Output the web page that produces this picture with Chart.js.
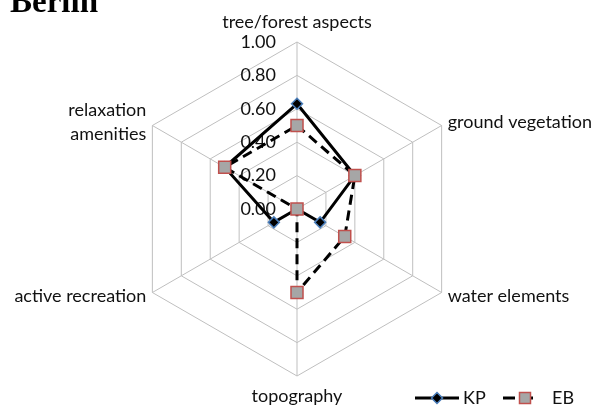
<!DOCTYPE html>
<html lang="en">
<head>
<meta charset="utf-8">
<title>Berlin</title>
<script src="https://cdn.jsdelivr.net/npm/chart.js@4.4.1/dist/chart.umd.min.js"></script>
<style>
    html, body { margin: 0; padding: 0; background: #fff; }
    #grafico-wrap { position: relative; width: 600px; height: 406px; }
</style>
</head>
<body>
<div id="grafico-wrap"><canvas id="chartRadar" width="600" height="406"></canvas></div>
<script>
// Dados
const categorias = ['tree/forest aspects', 'ground vegetation', 'water elements', 'topography', 'active recreation', ['relaxation', 'amenities']];
const valoresKP = [0.63, 0.40, 0.16, 0.00, 0.16, 0.50];
const valoresEB = [0.50, 0.40, 0.33, 0.50, 0.00, 0.50];
const rotulosEscala = ['0.00', '0.20', '0.40', '0.60', '0.80', '1.00'];
const nomesSeries = ['KP', 'EB'];
const tituloGrafico = 'Berlin';

const fonteTexto = '18px Lato';
const corTexto = '#111';
const corGrade = '#BFBFBF';

// Marcadores
function desenharLosango(ctx, x, y, r) {
    ctx.beginPath();
    ctx.moveTo(x, y - r); ctx.lineTo(x + r, y); ctx.lineTo(x, y + r); ctx.lineTo(x - r, y);
    ctx.closePath();
    ctx.fillStyle = '#000';
    ctx.fill();
    ctx.lineWidth = 1.5;
    ctx.strokeStyle = '#4A7EBB';
    ctx.stroke();
}

function desenharQuadrado(ctx, x, y, lado) {
    ctx.fillStyle = '#A6A6A6';
    ctx.fillRect(x - lado / 2, y - lado / 2, lado, lado);
    ctx.lineWidth = 1.5;
    ctx.strokeStyle = '#C0504D';
    ctx.strokeRect(x - lado / 2, y - lado / 2, lado, lado);
}

// Rótulos da escala e dos eixos (estilo Excel)
const rotulosPlugin = {
    id: 'rotulos',
    beforeDatasetsDraw(chart) {
        const r = chart.scales.r;
        const ctx = chart.ctx;
        ctx.save();
        ctx.font = fonteTexto;
        ctx.fillStyle = corTexto;
        ctx.textBaseline = 'middle';

        ctx.textAlign = 'right';
        rotulosEscala.forEach(txt => {
            const d = r.getDistanceFromCenterForValue(parseFloat(txt));
            ctx.fillText(txt, r.xCenter - 21, r.yCenter - d);
        });

        categorias.forEach((rotulo, i) => {
            const linhas = Array.isArray(rotulo) ? rotulo : [rotulo];
            const base = r.getPointPosition(i, r.drawingArea);
            const dx = base.x - r.xCenter;
            const vertical = Math.abs(dx) < 1;
            const p = r.getPointPosition(i, r.drawingArea + (vertical ? 20 : 7));
            ctx.textAlign = vertical ? 'center' : (dx > 0 ? 'left' : 'right');
            linhas.forEach((ln, k) => {
                ctx.fillText(ln, p.x, p.y + (k - (linhas.length - 1) / 2) * 24);
            });
        });
        ctx.restore();
    },
    afterDraw(chart) {
        const ctx = chart.ctx;
        ctx.save();

        // Título cortado no topo
        ctx.font = 'bold 33px "Liberation Serif"';
        ctx.fillStyle = '#000';
        ctx.textAlign = 'left';
        ctx.textBaseline = 'alphabetic';
        ctx.fillText(tituloGrafico, 10, 12);

        // Legenda
        const yLeg = 398;
        ctx.font = fonteTexto;
        ctx.fillStyle = corTexto;
        ctx.textBaseline = 'middle';

        ctx.strokeStyle = '#000';
        ctx.lineWidth = 3;
        ctx.beginPath(); ctx.moveTo(415, yLeg); ctx.lineTo(459, yLeg); ctx.stroke();
        desenharLosango(ctx, 437, yLeg, 5.5);
        ctx.fillStyle = corTexto;
        ctx.fillText(nomesSeries[0], 463, yLeg);

        ctx.strokeStyle = '#000';
        ctx.lineWidth = 3;
        ctx.setLineDash([12, 6]);
        ctx.beginPath(); ctx.moveTo(503, yLeg); ctx.lineTo(538, yLeg); ctx.stroke();
        ctx.setLineDash([]);
        desenharQuadrado(ctx, 525, yLeg, 11);
        ctx.fillStyle = corTexto;
        ctx.fillText(nomesSeries[1], 552, yLeg);

        ctx.restore();
    }
};

const ctx = document.getElementById('chartRadar').getContext('2d');
window.chartRadar = new Chart(ctx, {
    type: 'radar',
    data: {
        labels: categorias,
        datasets: [
            {
                label: nomesSeries[0],
                data: valoresKP,
                order: 1,
                borderColor: '#000',
                borderWidth: 3,
                fill: false,
                pointStyle: 'rectRot',
                pointRadius: 5.5,
                pointBackgroundColor: '#000',
                pointBorderColor: '#4A7EBB',
                pointBorderWidth: 1.5
            },
            {
                label: nomesSeries[1],
                data: valoresEB,
                order: 0,
                borderColor: '#000',
                borderWidth: 3,
                borderDash: [10, 6],
                fill: false,
                pointStyle: 'rect',
                pointRadius: 8.5,
                pointBackgroundColor: '#A6A6A6',
                pointBorderColor: '#C0504D',
                pointBorderWidth: 1.5
            }
        ]
    },
    options: {
        responsive: false,
        devicePixelRatio: 1,
        animation: false,
        layout: { padding: { top: 42, bottom: 29, left: 0, right: 5 } },
        elements: { line: { tension: 0 } },
        plugins: {
            legend: { display: false },
            tooltip: { enabled: false }
        },
        scales: {
            r: {
                min: 0,
                max: 1,
                ticks: { stepSize: 0.2, display: false },
                pointLabels: { display: false },
                grid: { color: corGrade, lineWidth: 1 },
                angleLines: { color: corGrade, lineWidth: 1 }
            }
        }
    },
    plugins: [rotulosPlugin]
});
</script>
</body>
</html>
